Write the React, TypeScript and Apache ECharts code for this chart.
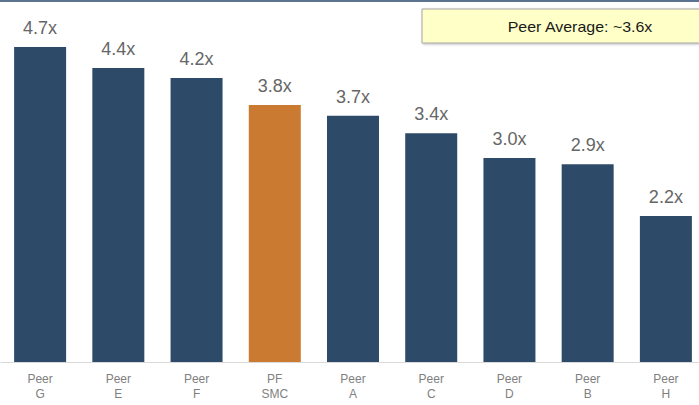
import React, { useEffect, useRef } from "react";
import * as echarts from "echarts";

const categories = ["Peer\nG", "Peer\nE", "Peer\nF", "PF\nSMC", "Peer\nA", "Peer\nC", "Peer\nD", "Peer\nB", "Peer\nH"];
const values = [4.68, 4.37, 4.22, 3.82, 3.66, 3.4, 3.03, 2.94, 2.17];
const highlighted = ["PF\nSMC"];
const averageLabel = "Peer Average: ~3.6x";

const NAVY = "#2E4A69";
const ORANGE = "#CB7A31";

export default function App() {
  const ref = useRef<HTMLDivElement>(null);
  useEffect(() => {
    document.body.style.margin = "0";
    const chart = echarts.init(ref.current!, null, { renderer: "svg" });
    chart.setOption({
      animation: false,
      grid: { left: 1, right: 1, top: 25.5, bottom: 43, containLabel: false },
      xAxis: {
        type: "category",
        data: categories,
        axisLine: { lineStyle: { color: "#D9D9D9", width: 1 } },
        axisTick: { show: false },
        axisLabel: {
          color: "#808080",
          fontSize: 12,
          lineHeight: 15,
          margin: 9,
          fontFamily: "Liberation Sans",
          interval: 0,
        },
      },
      yAxis: { type: "value", min: 0, max: 5, show: false, splitLine: { show: false } },
      series: [
        {
          type: "bar",
          barWidth: 52,
          data: values.map((v, i) => ({
            value: v,
            itemStyle: { color: highlighted.includes(categories[i]) ? ORANGE : NAVY },
          })),
          label: {
            show: true,
            position: "top",
            distance: 10,
            color: "#666666",
            fontSize: 18,
            fontFamily: "Liberation Sans",
            formatter: (p: any) => p.value.toFixed(1) + "x",
          },
        },
      ],
      graphic: [
        {
          type: "rect",
          shape: { x: 0, y: 0, width: 706, height: 2 },
          style: { fill: "#5B7491" },
        },
        {
          type: "rect",
          shape: { x: 422, y: 9, width: 300, height: 34 },
          style: {
            fill: "#FFFFC8",
            stroke: "#A6A6A6",
            lineWidth: 1,
            shadowBlur: 2,
            shadowOffsetX: 1,
            shadowOffsetY: 1,
            shadowColor: "rgba(0,0,0,0.25)",
          },
        },
        {
          type: "text",
          x: 580,
          y: 27,
          scaleX: 1.14,
          style: {
            text: averageLabel,
            fill: "#1A1A1A",
            fontSize: 14,
            fontFamily: "Liberation Sans",
            align: "center",
            verticalAlign: "middle",
          },
        },
      ],
    });
    return () => chart.dispose();
  }, []);
  return (
    <div style={{ width: 699, height: 405, overflow: "hidden" }}>
      <div ref={ref} style={{ width: 706, height: 405 }} />
    </div>
  );
}
